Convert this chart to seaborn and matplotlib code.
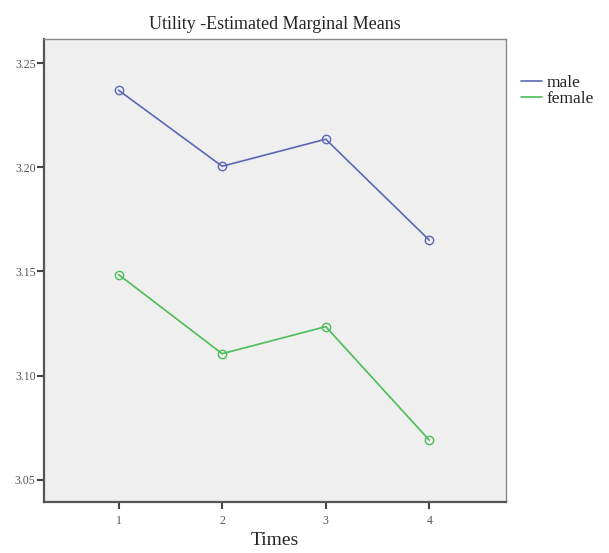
import numpy as np
import pandas as pd
import matplotlib
matplotlib.use('Agg')
import matplotlib.pyplot as plt
import seaborn as sns

## dados
tempos = [1, 2, 3, 4]
medias_male = [3.237, 3.2005, 3.2135, 3.165]
medias_female = [3.1485, 3.1105, 3.1235, 3.069]
grupos = ['male', 'female']
cores = ['#5a68b4', '#4cbd58']

data_frame = pd.DataFrame({
    'Times': tempos * 2,
    'Mean': medias_male + medias_female,
    'Sex': ['male'] * 4 + ['female'] * 4,
})

sns.set_style('white')
plt.rcParams['font.family'] = ['Liberation Serif', 'DejaVu Serif']

fig = plt.figure(figsize=(6.09, 5.53), dpi=100)
ax = fig.add_axes([0.0722, 0.0922, 0.7586, 0.8373])
ax.set_facecolor('#efefef')

sns.lineplot(data=data_frame, x='Times', y='Mean', hue='Sex',
             hue_order=grupos, palette=cores, marker='o',
             markersize=6, markerfacecolor='none', markeredgewidth=1.0,
             linewidth=1.2, ax=ax, legend=False)
## marcadores sem preenchimento com a cor da linha
for linha, cor in zip(ax.get_lines(), cores):
    linha.set_markeredgecolor(cor)

ax.set_xlim(0.28, 4.74)
ax.set_ylim(3.0393, 3.2616)
ax.set_xticks(tempos)
ax.set_xticklabels([str(t) for t in tempos])
ax.set_yticks([3.05, 3.10, 3.15, 3.20, 3.25])
ax.set_yticklabels(['3.05', '3.10', '3.15', '3.20', '3.25'])
ax.tick_params(axis='both', which='major', length=5, width=1.5,
               color='#444444', labelsize=8.5, labelcolor='#555555',
               direction='out', bottom=True, left=True, pad=1)
ax.tick_params(axis='x', pad=4)

for lado in ['left', 'bottom']:
    ax.spines[lado].set_color('#555555')
    ax.spines[lado].set_linewidth(1.6)
for lado in ['right', 'top']:
    ax.spines[lado].set_color('#8a8a8a')
    ax.spines[lado].set_linewidth(1.0)

ax.set_title('Utility -Estimated Marginal Means', fontsize=13, pad=7)
ax.set_xlabel('Times', fontsize=14, labelpad=4)
ax.set_ylabel('')

## legenda manual à direita
handles = [plt.Line2D([], [], color=c, linewidth=1.2) for c in cores]
fig.legend(handles, grupos, loc='upper left',
           bbox_to_anchor=(0.855, 0.865), frameon=False, fontsize=12.5,
           handlelength=1.2, handletextpad=0.3, labelspacing=0.0,
           borderaxespad=0, borderpad=0)

fig.savefig('out.png', dpi=100)
